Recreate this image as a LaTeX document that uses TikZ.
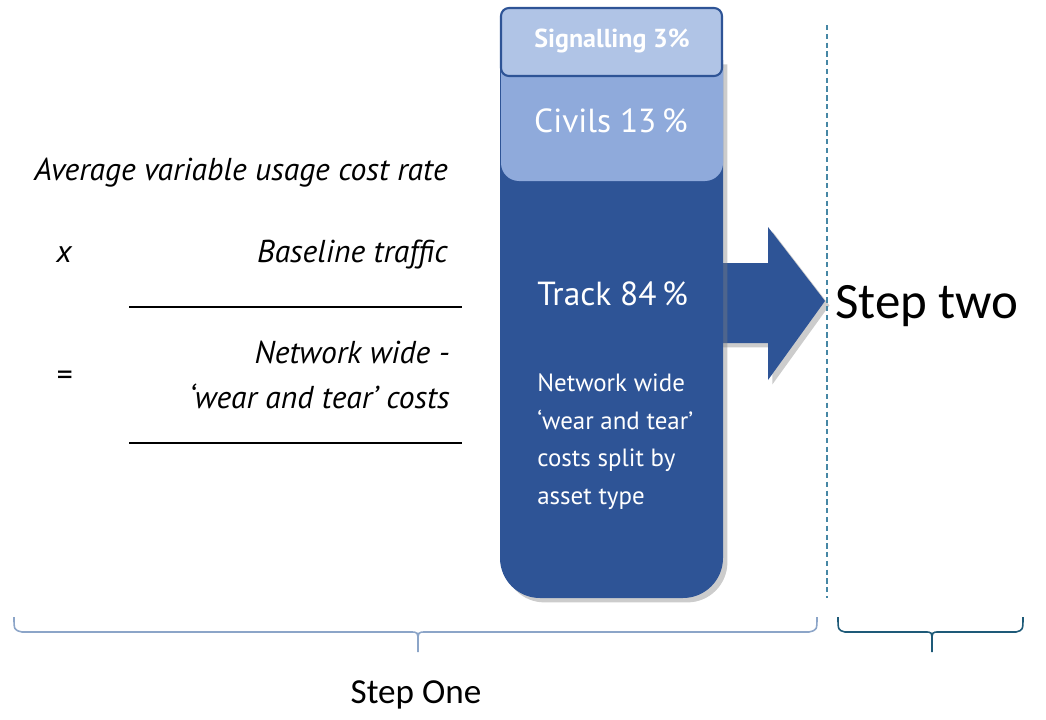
\documentclass[tikz,border=0pt]{standalone}
\usepackage{fontspec}
\setmainfont{PT Sans}
\newfontfamily\calib{Carlito}
\usetikzlibrary{shadows}
\definecolor{dblue}{RGB}{46,84,150}
\definecolor{cblue}{RGB}{143,170,219}
\definecolor{sblue}{RGB}{176,196,230}
\definecolor{dashc}{RGB}{70,135,165}
\definecolor{braceL}{RGB}{140,165,200}
\definecolor{braceR}{RGB}{30,90,120}
\tikzset{
  shad/.style={drop shadow={opacity=0.4,shadow xshift=2.5pt,shadow yshift=-2.5pt}},
  boxtxt/.style={text=white,inner sep=0pt},
  lefttxt/.style={font=\itshape\fontsize{18}{21}\selectfont,inner sep=0pt},
}
\begin{document}
\begin{tikzpicture}[x=0.02cm,y=-0.02cm]
\useasboundingbox (0,0) rectangle (1046,720);
% arrow
\fill[dblue,shad] (700,263) -- (768,263) -- (768,227) -- (825,301) -- (768,380) -- (768,343) -- (700,343) -- cycle;
% body
\fill[dblue,shad] (500,60) [rounded corners=0.8cm] -- (500,598) -- (723,598) [rounded corners=0cm] -- (723,60) -- cycle;
% civils
\fill[cblue] (501,70) [rounded corners=0.36cm] -- (501,181) -- (723,181) [rounded corners=0cm] -- (723,70) -- cycle;
% signalling
\draw[fill=sblue,draw=dblue,line width=1.2pt,rounded corners=0.16cm] (501,8) rectangle (722,76);
% texts in column
\node[boxtxt,font=\bfseries\fontsize{14.8}{17}\selectfont] (sig) at (612,41) {Signalling 3\%};
\node[boxtxt,font=\fontsize{19}{22}\selectfont] (civ) at (611,121) {Civils 13\,\%};
\node[boxtxt,font=\fontsize{19}{22}\selectfont,anchor=base west] (trk) at (537,305) {Track 84\,\%};
\node[boxtxt,font=\fontsize{14.2}{21.6}\selectfont,anchor=north west,align=left] (par) at (537,373) {Network wide\\‘wear and tear’\\costs split by\\asset type};
% dashed line
\coordinate (dtop) at (827,25);
\coordinate (dbot) at (827,598);
\draw[dashc,line width=1pt,dash pattern=on 3pt off 2pt] (dtop) -- (dbot);
\node[font=\calib\fontsize{29}{34}\selectfont,anchor=base west,inner sep=0pt] (two) at (835,318) {Step two};
% left formula
\node[lefttxt,anchor=base east] (avg) at (448,180) {Average variable usage cost rate};
\node[lefttxt,anchor=base] (x) at (64,262) {x};
\node[lefttxt,anchor=base east] (base) at (448,262) {Baseline traffic};
\coordinate (l1a) at (129,307); \coordinate (l1b) at (462,307);
\draw[line width=1.4pt] (l1a) -- (l1b);
\node[lefttxt,anchor=base east] (nw) at (450,363) {Network wide -};
\node[lefttxt,anchor=base east] (wt) at (450,408) {‘wear and tear’ costs};
\node[lefttxt] (eq) at (64,378) {=};
\coordinate (l2a) at (129,443); \coordinate (l2b) at (462,443);
\draw[line width=1.4pt] (l2a) -- (l2b);
% braces
\draw[braceL,line width=0.9pt] (14,617) .. controls (14,630) .. (22,632) -- (410,632) .. controls (418,632) .. (418,642) -- (418,652);
\draw[braceL,line width=0.9pt] (817,617) .. controls (817,630) .. (809,632) -- (426,632) .. controls (418,632) .. (418,642);
\draw[braceR,line width=0.9pt] (838,617) .. controls (838,630) .. (845,632) -- (925,632) .. controls (932,632) .. (932,642) -- (932,652);
\draw[braceR,line width=0.9pt] (1023,617) .. controls (1023,630) .. (1016,632) -- (939,632) .. controls (932,632) .. (932,642);
\node[font=\calib\fontsize{20}{24}\selectfont,anchor=base,inner sep=0pt] (one) at (416,703) {Step One};
\end{tikzpicture}
\end{document}
